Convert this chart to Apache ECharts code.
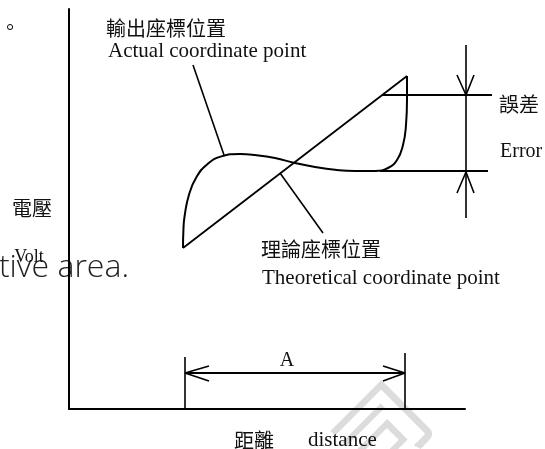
<!DOCTYPE html>
<html>
<head>
<meta charset="utf-8">
<title>誤差示意圖</title>
<script src="https://cdn.jsdelivr.net/npm/echarts@6/dist/echarts.min.js"></script>
<style>
  html, body { margin: 0; padding: 0; background: #fff; }
  #main { width: 545px; height: 449px; }
</style>
</head>
<body>
<div id="main"></div>
<script>
// 座標單位：x 0~99，y 0~100（距離 / 電壓，無刻度）
const xMax = 99
const yMax = 100
// 右側誤差標示用的延伸座標（同比例，只是更寬）
const xMaxWide = 119

// 理論座標位置（直線）
const theoreticalLine = [[28.5, 40.25], [84.5, 83.25]]
// 輸出座標位置（曲線）
const actualCurve = [
  [28.5, 40.25], [28.6, 44.6], [28.9, 48.2], [30.05, 53.75], [31.95, 58.1],
  [34.6, 61.2], [37.9, 63.1], [42.75, 63.75], [46.5, 63.5], [51.5, 62.75],
  [56.5, 61.5], [61.5, 60.5], [66.5, 59.8], [71.5, 59.5], [76.5, 59.5],
  [79.75, 60.25], [82, 62.25], [83.5, 66], [84.25, 71], [84.5, 77.25],
  [84.5, 83.25]
]
// 引線
const actualLeader = [[31, 86], [38.75, 63.5]]
const theoryLeader = [[52.75, 59], [63.5, 44]]
// 誤差標示
const errorTop = [[78.25, 78.5], [105.75, 78.5]]
const errorBottom = [[77.75, 59.5], [104.75, 59.5]]
const errorStem = [[99.25, 91], [99.25, 47.75]]
const errorArrowTop = [[97, 83.5], [99.25, 78.5], [101.25, 83.5]]
const errorArrowBottom = [[97, 54], [99.25, 59.25], [101.25, 54]]
// 距離 A 標示
const dimTickLeft = [[29, 13], [29, 0]]
const dimTickRight = [[84, 14], [84, 0]]
const dimLine = [[29, 9], [84, 9]]
const dimArrowLeft = [[35, 10.75], [29, 9], [35, 7]]
const dimArrowRight = [[78.5, 10.75], [84, 9], [78.5, 7]]

const cjk = '"Noto Sans CJK TC", sans-serif'
const serif = '"Liberation Serif", "DejaVu Serif", serif'

function seg(name, data, width, smooth, axisIndex) {
  return {
    name: name,
    type: 'line',
    data: data,
    xAxisIndex: axisIndex || 0,
    yAxisIndex: axisIndex || 0,
    symbol: 'none',
    smooth: smooth || false,
    silent: true,
    lineStyle: { color: '#000', width: width || 1.6 }
  }
}

function txt(text, x, y, font, align, color) {
  return {
    type: 'text',
    x: x,
    y: y,
    silent: true,
    style: {
      text: text,
      font: font,
      fill: color || '#111',
      textAlign: align || 'left',
      textVerticalAlign: 'middle'
    }
  }
}

const hiddenAxis = {
  axisLine: { show: false }, axisTick: { show: false },
  axisLabel: { show: false }, splitLine: { show: false }
}
const blackAxis = {
  axisLine: { show: true, lineStyle: { color: '#000', width: 2 } },
  axisTick: { show: false }, axisLabel: { show: false }, splitLine: { show: false }
}

const chart = echarts.init(document.getElementById('main'))
const option = {
  animation: false,
  backgroundColor: '#fff',
  grid: [
    { left: 69, top: 9, right: 80, bottom: 40, outerBoundsMode: 'none' },
    { left: 69, top: 9, right: 0, bottom: 40, outerBoundsMode: 'none' }
  ],
  xAxis: [
    Object.assign({ type: 'value', min: 0, max: xMax, gridIndex: 0 }, blackAxis),
    Object.assign({ type: 'value', min: 0, max: xMaxWide, gridIndex: 1 }, hiddenAxis)
  ],
  yAxis: [
    Object.assign({ type: 'value', min: 0, max: yMax, gridIndex: 0 }, blackAxis),
    Object.assign({ type: 'value', min: 0, max: yMax, gridIndex: 1 }, hiddenAxis)
  ],
  graphic: [
    // 浮水印
    {
      type: 'text', x: 382, y: 430, rotation: Math.PI / 4, silent: true, z: -10,
      style: { text: '司', font: '90px ' + cjk, fill: '#dcdcdc', textAlign: 'center', textVerticalAlign: 'middle' }
    },
    txt('。', 10, 27, '20px ' + cjk, 'center'),
    txt('輸出座標位置', 106, 28, '20px ' + cjk),
    txt('Actual coordinate point', 108, 51, '21px ' + serif),
    txt('誤差', 499, 104, '20px ' + cjk),
    txt('Error', 500, 152, '20px ' + serif),
    txt('電壓', 32, 208, '20px ' + cjk, 'center'),
    txt('tive area.', 129, 267.5, '300 32px "Open Sans", sans-serif', 'right', '#222'),
    txt('Volt', 29, 257, '18px ' + serif, 'center'),
    txt('理論座標位置', 261, 249, '20px ' + cjk),
    txt('Theoretical coordinate point', 262, 278, '21px ' + serif),
    txt('A', 287, 361, '20px ' + serif, 'center'),
    txt('距離', 234, 440, '20px ' + cjk),
    txt('distance', 308, 440, '21px ' + serif)
  ],
  series: [
    seg('理論座標位置', theoreticalLine, 1.8),
    seg('輸出座標位置', actualCurve, 2, 0.5),
    seg('actualLeader', actualLeader, 1.6),
    seg('theoryLeader', theoryLeader, 1.6),
    seg('errorTop', errorTop, 1.8, false, 1),
    seg('errorBottom', errorBottom, 1.8, false, 1),
    seg('errorStem', errorStem, 1.6, false, 1),
    seg('errorArrowTop', errorArrowTop, 1.6, false, 1),
    seg('errorArrowBottom', errorArrowBottom, 1.6, false, 1),
    seg('dimTickLeft', dimTickLeft, 1.6),
    seg('dimTickRight', dimTickRight, 1.6),
    seg('dimLine', dimLine, 1.8),
    seg('dimArrowLeft', dimArrowLeft, 1.6),
    seg('dimArrowRight', dimArrowRight, 1.6)
  ]
}
chart.setOption(option)
window.addEventListener('resize', function () {
  chart.resize()
})
</script>
</body>
</html>
